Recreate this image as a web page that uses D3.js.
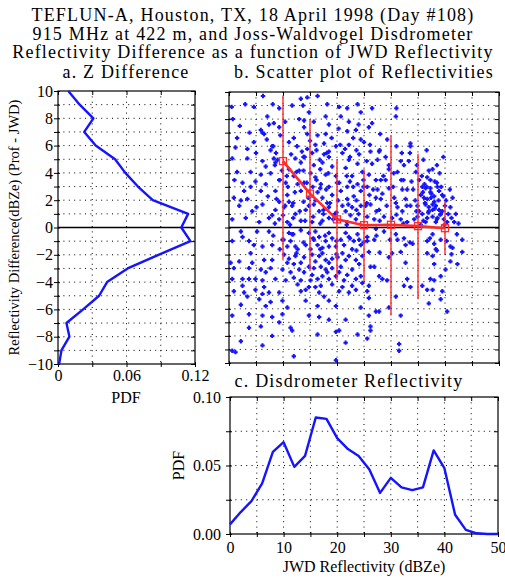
<!DOCTYPE html>
<html>
<head>
<meta charset="utf-8">
<script src="https://cdn.jsdelivr.net/npm/d3@7"></script>
<style>
  body { margin: 0; background: #fff; }
</style>
</head>
<body>
<div id="chart"></div>
<script>
// Title lines
var titleLines = [
    "TEFLUN-A, Houston, TX, 18 April 1998 (Day #108)",
    "915 MHz at 422 m, and Joss-Waldvogel Disdrometer",
    "Reflectivity Difference as a function of JWD Reflectivity"
];

// Panel a: PDF of reflectivity difference
var diffBins = [10, 9, 8, 7, 6, 5, 4, 3, 2, 1, 0, -1, -2, -3, -4, -5, -6, -7, -8, -9, -10];
var diffPdf = [0.009, 0.019, 0.031, 0.023, 0.033, 0.050, 0.059, 0.070, 0.083, 0.114, 0.108, 0.116,
               0.088, 0.061, 0.043, 0.036, 0.022, 0.0074, 0.010, 0.003, 0.001];
var pdfTicksA = [0, 0.06, 0.12];

// Panel b: binned mean and spread of the difference
var binCenters = [10, 15, 20, 25, 30, 35, 40];
var binMean = [4.9, 2.5, 0.6, 0.17, 0.2, 0.1, -0.05];
var binTop = [9.75, 8.0, 5.05, 4.3, 6.75, 5.45, 1.9];
var binBottom = [-2.35, -3.15, -3.9, -4.0, -6.5, -5.3, -2.0];

// Panel b: scatter points [JWD dBZe, difference dB]
var scatterPts = [
  [6.3,9.7],[13.3,9.5],[14.5,9.6],[16.4,9.7],[0.5,8.9],[3.0,9.1],[4.6,8.9],[8.1,9.1],[9.3,8.8],[11.7,9.0],
  [13.7,9.0],[14.8,8.5],[18.2,9.1],[20.4,8.9],[21.9,8.8],[23.8,9.1],[0.7,8.0],[7.1,8.2],[7.4,7.6],[8.3,7.7],
  [9.3,7.4],[6.5,6.9],[6.2,7.0],[13,8.0],[13.9,7.9],[15.7,7.8],[17.9,8.2],[18.5,7.6],[20.7,8.2],[22.2,7.8],
  [24.4,8.5],[13.9,7.4],[14.5,6.9],[16.4,6.8],[17.9,6.9],[21.9,7.1],[23.5,7.2],[1.5,6.6],[4.6,6.3],[3.4,5.8],
  [12,6.6],[11.1,6.3],[16,6.1],[17.6,6.2],[19.8,6],[22.2,6.1],[24.4,6.5],[1.2,5.9],[7.7,5.7],[14.5,5.8],
  [15.4,5.5],[17.6,5.4],[18.5,5.2],[18.5,5.6],[21,5.5],[22.2,5],[24.1,5.4],[0.6,5.1],[3.4,5.1],[6.2,4.9],
  [8.3,5.1],[8.6,4.8],[9.0,5.0],[12.3,5.1],[13.3,4.8],[15.7,4.6],[17.3,4.8],[19.1,4.5],[21.6,4.4],[23.8,4.7],
  [1.5,4.1],[4,4.1],[5.9,3.9],[7.7,4],[11.1,4.3],[12,3.8],[15.1,4],[16,3.7],[17.9,3.9],[19.8,3.8],
  [22.8,3.8],[24.7,4.1],[2.5,3.3],[4.9,3.4],[6.8,3.2],[9.3,3.5],[10.5,3.3],[12.7,3.2],[13.9,3.3],[17,3.2],
  [18.5,3.0],[20.4,3.3],[21.9,3],[23.8,3.2],[0.9,2.2],[2.8,2.7],[3.4,2.1],[5.9,2.7],[8.6,2.7],[9.3,1.9],
  [10.8,2.4],[11.1,1.9],[13.3,2.7],[16.4,2.6],[17.3,2.2],[18.2,1.8],[19.1,2.4],[20.7,2.7],[21.9,2.1],[23.1,2.3],
  [24.4,2.7],[1.9,1.6],[4.3,1.2],[6.2,1.7],[8.6,1.3],[10.2,1.5],[11.7,1.6],[12.3,1.0],[14.2,1.3],[15.7,1.7],
  [16.7,1.2],[18.5,1.5],[21,1.6],[21.6,1.2],[22.8,1.5],[24.4,1.6],[0.6,0.6],[3.1,0.7],[5.6,0.4],[7.4,0.7],
  [9.3,0.6],[10.8,0.4],[13.3,0.5],[15.4,0.4],[17.3,0.5],[18.5,0.7],[21.9,0.4],[23.5,0.6],
  [5.9,7.2],[7.0,6.5],[8.0,6.0],[9.5,6.8],[10.4,7.8],[11.5,5.4],[12.6,6.0],[14.0,5.2],[15.0,6.4],[16.8,5.0],
  [19.0,6.6],[20.3,7.3],[21.5,5.8],[23.0,6.6],[24.0,7.6],[2.0,7.5],[3.8,7.0],[5.0,5.5],[6.8,4.5],[9.8,4.2],
  [10.9,3.0],[12.2,2.6],[13.0,4.2],[14.7,2.2],[15.5,3.0],[16.9,4.3],[18.0,2.8],[19.6,1.0],[20.2,2.0],[22.4,3.4],
  [23.6,2.0],[24.9,3.0],[1.0,3.5],[2.2,2.0],[4.0,3.0],[5.1,1.5],[7.2,2.3],[8.0,0.9],[10.0,0.9],[11.9,0.7],
  [13.8,1.9],[16.0,2.0],[17.5,1.0],[20.0,0.6],[22.5,0.9],[24.0,1.0],
  [8.2,6.0],[8.7,5.5],[8.5,4.6],[13.5,5.6],[13.8,5.2],[16.2,5.7],[18.1,5.5],[20.6,6.1],[22.4,5.2],[23.6,5.7],
  [9.4,3.5],[10.7,3.8],[12.5,4.1],[13.8,4.2],[14.4,3.3],[16.2,3.5],[16.9,2.9],[18.4,4.0],[20.0,3.3],[21.8,3.8],
  [23.0,3.0],[24.9,3.5],[8.8,2.1],[10.4,1.6],[11.9,1.8],[13.1,1.2],[14.8,1.6],[15.6,0.8],[17.5,1.3],[18.7,1.8],
  [19.9,1.1],[22.1,1.7],[23.6,1.3],[8.5,0.3],[11.3,0.2],[14.1,0.5],[16.9,0.3],[19.3,0.6],[21.8,0.2],
  [26.5,8.8],[31,8.8],[30.9,8.2],[26.5,7.7],[25.9,7.4],[28,6.9],[29.3,6.5],[33.6,6.2],[33.6,6],[25.0,6.3],
  [26.2,5.6],[27.8,5.6],[27.5,5],[25.5,4.9],[26.5,4.7],[29.6,4.6],[29.6,4.3],[31.8,4.9],[32.4,4.6],[33.3,4.9],
  [31.2,4.1],[34.6,4.1],[37.7,4.3],[25.9,3.9],[27.2,3.5],[28.1,3.5],[29,3.5],[31.9,3.5],[35.2,3.5],[36.7,3.7],
  [37.3,3.5],[25.6,3],[27.5,2.8],[29.6,2.9],[32.1,2.8],[33,2.8],[35.8,3],[36.4,2.9],[37.3,2.9],[38.6,3],
  [27.2,2.2],[28.1,2.1],[30.6,2.2],[30.9,1.8],[32.7,2.1],[35.5,2.4],[36.1,2.2],[37.3,2.6],[38,2.3],[38.9,2.7],
  [39.5,2.4],[25.3,1.6],[26.2,1.7],[27.8,1.3],[31.2,1.5],[32.1,1.2],[33.6,1.6],[34.9,1.6],[36.4,1.7],[37,1.5],
  [37.7,1.3],[38.3,1.6],[38.9,1.3],[39.5,1.2],[41,1.5],[25.6,0.8],[26.9,0.6],[28.7,0.8],[30.2,0.7],[31.8,0.6],
  [34.3,0.6],[34.9,0.8],[35.8,1],[36.7,0.7],[37.7,0.8],[38.6,0.7],[39.2,1],[39.8,0.6],[40.4,0.4],[41.7,0.4],
  [36.4,0.4],[38.3,0.4],[37,1.2],[38,1.9],[36.7,2.1],[37.7,1.7],
  [26.1,6.1],[27.9,5.7],[31.0,6.0],[33.5,5.5],[36.6,5.7],[39.7,5.2],[26.7,2.8],[28.6,3.8],[30.4,3.0],[32.3,3.5],
  [34.1,2.8],[35.7,3.8],[36.6,3.0],[37.5,2.5],[38.5,3.3],[39.7,2.3],[40.9,2.8],[25.5,1.8],[27.3,1.2],[29.2,1.6],
  [31.0,0.95],[32.9,1.6],[34.7,1.2],[36.3,1.8],[36.9,1.1],[38.1,1.4],[39.1,0.95],[40.0,1.6],[41.2,0.7],[27.9,0.5],
  [32.3,0.3],[36.0,0.5],[38.5,0.6],
  [34.5,2.0],[35.2,1.2],[35.9,2.6],[36.2,3.2],[37.4,2.2],[38.1,3.4],[38.8,2.0],[39.3,3.0],[40.2,2.0],[40.6,1.0],
  [41.4,2.2],[42.0,1.0],[42.5,0.3],[39.9,0.2],[35.5,0.2],[33.0,0.4],[33.8,3.4],[34.8,4.6],[36.0,5.0],[37.0,4.2],
  [38.5,4.6],[39.0,4.0],[32.0,5.5],[30.5,4.0],[29.0,5.2],[28.4,2.5],[26.0,2.4],
  [2.2,-0.3],[2.5,-0.7],[5.2,-0.3],[7.4,-0.3],[11.1,-0.4],[13.3,-0.2],[16,-0.3],[18.5,-0.4],[21.6,-0.4],[23.8,-0.5],
  [0.6,-1.0],[3.7,-1],[4.6,-1.3],[6.2,-1.4],[8,-1.3],[11.4,-1.0],[12.3,-1.4],[14.2,-1.3],[15.7,-0.9],[16.4,-1.3],
  [17.9,-1],[18.5,-1.4],[20.7,-0.9],[21.3,-1.3],[23.1,-1],[24.4,-1.3],[0.3,-2.6],[4,-1.9],[6.5,-2.4],[8,-2.4],
  [10.2,-2],[10.8,-2.6],[12.3,-2.1],[13.3,-2.6],[15.4,-2],[16,-2.5],[17.3,-1.9],[17.9,-2.4],[19.1,-2.3],[21,-1.9],
  [21.6,-2.4],[23.5,-2.4],[24.7,-2.1],[0.9,-3],[3.7,-3],[5.9,-3.1],[7.7,-3],[9.9,-3.1],[11.4,-3.3],[13,-3.1],
  [13.9,-3.3],[15.7,-3],[17.9,-3.1],[19.1,-3],[20.4,-3.3],[22.8,-3.1],[0.6,-3.8],[2.5,-3.8],[3.7,-3.8],[4.9,-3.8],
  [6.2,-3.9],[8.6,-3.8],[10.5,-3.9],[12,-3.7],[13.3,-3.9],[15.1,-3.9],[16.4,-3.8],[18.5,-3.8],[21.3,-3.9],[23.5,-3.8],
  [0.9,-4.7],[2.8,-4.8],[4.9,-4.6],[6.5,-4.4],[7.4,-4.8],[9.3,-4.8],[13.3,-4.7],[14.2,-4.6],[16,-4.4],[16.7,-4.8],
  [17.6,-5.1],[20.4,-4.7],[22.2,-4.8],[23.5,-4.6],[2.2,-5.7],[3.4,-5.1],[5.6,-5.3],[6.8,-5.8],[7.7,-5.5],[9.9,-5.4],
  [10.8,-5.9],[14.2,-5.4],[16.4,-5.8],[18.5,-5.4],[19.8,-5.8],[24.4,-5.9],[0.6,-6.5],[3.7,-6.4],[6.2,-6.5],[8,-6.6],
  [9.9,-6.4],[14.8,-6.5],[16.7,-6.6],[18.5,-6.8],[21.6,-6.8],[3.7,-7.4],[5.9,-7.3],[8,-8],[9.3,-7],[11.4,-7.4],
  [11.7,-7.6],[16.4,-7.9],[19.8,-7.7],[20.4,-7.6],[21.6,-8.5],[23.8,-7.9],[2.2,-8.4],[6.2,-8.7],[0.6,-9.1],[1.2,-9.2],
  [12,-9.5],[19.8,-9.8],
  [8.2,-0.6],[10.1,-0.9],[11.9,-0.5],[13.8,-1.1],[15.6,-0.8],[17.8,-0.6],[19.9,-1.0],[22.4,-0.8],[24.9,-1.1],[9.4,-1.6],
  [12.5,-1.9],[16.9,-1.6],[19.9,-1.97],[23.6,-1.7],
  [9.9,-0.9],[10.8,-1.4],[11.7,-0.5],[12.7,-1.6],[14.8,-0.4],[15.1,-1.6],[16.7,-0.7],[17.3,-1.5],[19.1,-0.8],[19.8,-1.4],
  [22.2,-0.7],[22.8,-1.6],[24.1,-0.9],[11.1,-2.3],[12,-2.7],[13.9,-2.2],[14.8,-2.9],[16.7,-2.1],[17,-2.9],[18.5,-2.6],
  [20.1,-2.2],[20.7,-2.9],[22.2,-2.1],[24.1,-2.7],[15.4,-3.5],[17.3,-3.6],[18.2,-3.3],[19.8,-3.6],[21.9,-3.5],[24.4,-3.6],
  [12.7,-4.2],[14.8,-4.4],[17,-4.3],[19.1,-4.2],[21,-4.4],[22.8,-4.3],[24.7,-4.1],[1.9,-2.5],[4.3,-2.6],[6.8,-3.3],
  [2.5,-4.3],[6.2,-4.9],
  [27.2,-0.1],[25.6,-0.7],[25.6,-1],[26.9,-0.9],[28.7,-0.3],[30.9,-0.5],[31.2,-0.9],[32.4,-0.8],[32.7,-1.3],[34,-1.2],
  [36.7,-1],[37.7,-0.5],[38,-1.2],[38.3,-1.6],[39.2,-0.9],[41,-1.4],[41.4,-1.5],[43.2,-0.9],[43.2,-1.8],[25.9,-1.8],
  [29.6,-2.2],[30.2,-1.9],[31.8,-1.8],[32.7,-2.6],[36.7,-1.9],[37.7,-2.1],[41,-2.5],[42.3,-2.7],[26.2,-2.9],[26.9,-2.9],
  [38,-2.7],[40.1,-3.1],[27.8,-3.6],[28.4,-3.8],[29.3,-3.9],[33,-3.8],[32.4,-4.3],[33.6,-4.4],[35.8,-4.3],[37.3,-3.8],
  [38,-3.9],[39.2,-3.6],[25.9,-4.3],[25.6,-4.7],[25.9,-5.2],[30.9,-5.1],[36.7,-4.6],[37.7,-4.6],[39.5,-4.7],[39.2,-5.3],
  [37,-5.6],[27.2,-6.2],[27.8,-6.2],[29.6,-5.9],[25.9,-6.5],[31.8,-6.5],[40.4,-6.2],[26.2,-7.3],[26.2,-7.6],[25.6,-8.2],
  [31.5,-8.6],[31.5,-9.1],
  [27.3,-0.6],[29.8,-0.9],[33.5,-1.1],[37.2,-0.8],[40.3,-1.0],[42.2,-0.5],[27.9,-1.85],[38.5,-1.7],[41.2,-1.97]
];

// Panel c: PDF of disdrometer reflectivity
var refBins = [0, 2, 4, 6, 8, 10, 12, 14, 16, 18, 20, 22, 24, 26, 28, 30, 32, 34, 36, 38, 40, 42, 44, 46, 48, 50];
var refPdf = [0.007, 0.016, 0.024, 0.037, 0.060, 0.067, 0.049, 0.057, 0.085, 0.084, 0.070, 0.062, 0.057,
              0.047, 0.030, 0.041, 0.034, 0.032, 0.034, 0.061, 0.048, 0.014, 0.003, 0.0005, 0, 0];
var refTicks = [0, 10, 20, 30, 40, 50];
var pdfTicksC = [0, 0.05, 0.10];

var width = 505, height = 578;
var serif = "'Liberation Serif', 'Times New Roman', serif";
var blue = "#1414ff", red = "#ff2a2a";

var svg = d3.select("#chart").append("svg")
    .attr("width", width)
    .attr("height", height)
    .attr("font-family", serif);

// Add a text label
function label(x, y, txt, size, spacing) {
    return svg.append("text")
        .attr("x", x).attr("y", y)
        .attr("text-anchor", "middle")
        .attr("font-family", serif)
        .attr("font-size", size)
        .attr("letter-spacing", spacing || 0)
        .attr("fill", "#000")
        .text(txt);
}

// Titles
titleLines.forEach(function(t, i) {
    label(253, 21 + i * 18.5, t, 18, 1.2);
});

// Scales
var xA = d3.scaleLinear().domain([0, 0.12]).range([58, 195]);
var yA = d3.scaleLinear().domain([-10, 10]).range([364, 91]);
var xB = d3.scaleLinear().domain([0, 50]).range([229, 499]);
var yB = d3.scaleLinear().domain([-10, 10]).range([363, 92]);
var xC = d3.scaleLinear().domain([0, 50]).range([230, 498]);
var yC = d3.scaleLinear().domain([0, 0.1]).range([534, 397]);

// Dotted grid, frame and tick marks for a panel
function drawFrame(x, y, xGrid, yGrid) {
    var g = svg.append("g");
    var x0 = x.range()[0], x1 = x.range()[1];
    var y0 = y.range()[1], y1 = y.range()[0];

    g.selectAll(".vgrid").data(xGrid).enter().append("line")
        .attr("x1", function(d) { return x(d); }).attr("x2", function(d) { return x(d); })
        .attr("y1", y0).attr("y2", y1)
        .attr("stroke", "#000").attr("stroke-width", 1)
        .attr("stroke-dasharray", "1,4.4");
    g.selectAll(".hgrid").data(yGrid).enter().append("line")
        .attr("x1", x0).attr("x2", x1)
        .attr("y1", function(d) { return y(d); }).attr("y2", function(d) { return y(d); })
        .attr("stroke", "#000").attr("stroke-width", 1)
        .attr("stroke-dasharray", "1,4.4");

    var all = [x.domain()[0]].concat(xGrid, [x.domain()[1]]);
    var allY = [y.domain()[0]].concat(yGrid, [y.domain()[1]]);
    g.append("g").attr("transform", "translate(0," + (y1 - 2) + ")")
        .call(d3.axisBottom(x).tickValues(all).tickSize(5).tickFormat(""));
    g.append("g").attr("transform", "translate(0," + y0 + ")")
        .call(d3.axisBottom(x).tickValues(all).tickSize(4).tickFormat(""));
    g.append("g").attr("transform", "translate(" + (x0 + 2) + ",0)")
        .call(d3.axisLeft(y).tickValues(allY).tickSize(6).tickFormat(""));
    g.append("g").attr("transform", "translate(" + x1 + ",0)")
        .call(d3.axisLeft(y).tickValues(allY).tickSize(4).tickFormat(""));
    g.selectAll(".domain").remove();
    g.selectAll(".tick line").attr("stroke", "#000");

    g.append("rect")
        .attr("x", x0).attr("y", y0)
        .attr("width", x1 - x0).attr("height", y1 - y0)
        .attr("fill", "none").attr("stroke", "#000").attr("stroke-width", 1.2);
    return g;
}

// Style tick labels of an axis group
function styleAxis(a) {
    a.select(".domain").remove();
    a.attr("font-family", serif);
    a.selectAll("text").attr("font-family", serif).attr("font-size", 16).attr("fill", "#000");
}

var dbGrid = d3.range(-9, 10, 1);

// ---- Panel a ----
drawFrame(xA, yA, [0.03, 0.06, 0.09], dbGrid);
svg.append("line")
    .attr("x1", xA(0)).attr("x2", xA(0.12))
    .attr("y1", yA(0)).attr("y2", yA(0))
    .attr("stroke", "#000").attr("stroke-width", 1.3);

styleAxis(svg.append("g").attr("transform", "translate(" + xA(0) + ",0)")
    .call(d3.axisLeft(yA).tickValues(d3.range(-10, 11, 2)).tickSize(0).tickPadding(5)));
styleAxis(svg.append("g").attr("transform", "translate(0," + yA(-10) + ")")
    .call(d3.axisBottom(xA).tickValues(pdfTicksA).tickSize(0).tickPadding(6)
        .tickFormat(function(d) { return d === 0 ? "0" : d3.format(".2f")(d); })));

svg.append("path")
    .datum(diffBins.map(function(b, i) { return [diffPdf[i], b]; }))
    .attr("fill", "none").attr("stroke", blue).attr("stroke-width", 2.4)
    .attr("stroke-linejoin", "round")
    .attr("d", d3.line().x(function(d) { return xA(d[0]); }).y(function(d) { return yA(d[1]); }));

label(126, 78, "a. Z Difference", 18, 1.2);
label(126, 403, "PDF", 16);
label(0, 0, "Reflectivity Difference(dBZe) (Prof - JWD)", 14.5)
    .attr("transform", "translate(19," + yA(0) + ") rotate(-90)");

// ---- Panel b ----
drawFrame(xB, yB, d3.range(5, 50, 5), dbGrid);

svg.append("g").selectAll("path")
    .data(scatterPts)
    .enter().append("path")
    .attr("transform", function(d) { return "translate(" + xB(d[0]) + "," + yB(d[1]) + ")"; })
    .attr("d", "M-2.2,0H2.2M0,-2.2V2.2")
    .attr("stroke", blue).attr("stroke-width", 2);

svg.append("line")
    .attr("x1", xB(0)).attr("x2", xB(50))
    .attr("y1", yB(0)).attr("y2", yB(0))
    .attr("stroke", "#000").attr("stroke-width", 1.3);

svg.append("g").selectAll("line")
    .data(binCenters)
    .enter().append("line")
    .attr("x1", function(d) { return xB(d); }).attr("x2", function(d) { return xB(d); })
    .attr("y1", function(d, i) { return yB(binTop[i]); })
    .attr("y2", function(d, i) { return yB(binBottom[i]); })
    .attr("stroke", red).attr("stroke-width", 1.4);

svg.append("path")
    .datum(binCenters.map(function(c, i) { return [c, binMean[i]]; }))
    .attr("fill", "none").attr("stroke", red).attr("stroke-width", 2.6)
    .attr("d", d3.line().x(function(d) { return xB(d[0]); }).y(function(d) { return yB(d[1]); }));

svg.append("g").selectAll("rect")
    .data(binCenters)
    .enter().append("rect")
    .attr("x", function(d) { return xB(d) - 3.5; })
    .attr("y", function(d, i) { return yB(binMean[i]) - 3.5; })
    .attr("width", 7).attr("height", 7)
    .attr("fill", "none").attr("stroke", red).attr("stroke-width", 1.3);

label(364, 78, "b. Scatter plot of Reflectivities", 18, 1.2);

// ---- Panel c ----
drawFrame(xC, yC, d3.range(5, 50, 5), [0.025, 0.05, 0.075]);

styleAxis(svg.append("g").attr("transform", "translate(" + (xC(0) - 4) + ",0)")
    .call(d3.axisLeft(yC).tickValues(pdfTicksC).tickSize(0).tickPadding(5).tickFormat(d3.format(".2f"))));
styleAxis(svg.append("g").attr("transform", "translate(0," + (yC(0) + 2) + ")")
    .call(d3.axisBottom(xC).tickValues(refTicks).tickSize(0).tickPadding(6).tickFormat(d3.format("d"))));

svg.append("path")
    .datum(refBins.map(function(b, i) { return [b, refPdf[i]]; }))
    .attr("fill", "none").attr("stroke", blue).attr("stroke-width", 2.4)
    .attr("stroke-linejoin", "round")
    .attr("d", d3.line().x(function(d) { return xC(d[0]); }).y(function(d) { return yC(d[1]); }));

label(349, 387, "c. Disdrometer Reflectivity", 18, 1.2);
label(364, 572, "JWD Reflectivity (dBZe)", 16);
label(0, 0, "PDF", 16)
    .attr("transform", "translate(184," + yC(0.05) + ") rotate(-90)");
</script>
</body>
</html>
